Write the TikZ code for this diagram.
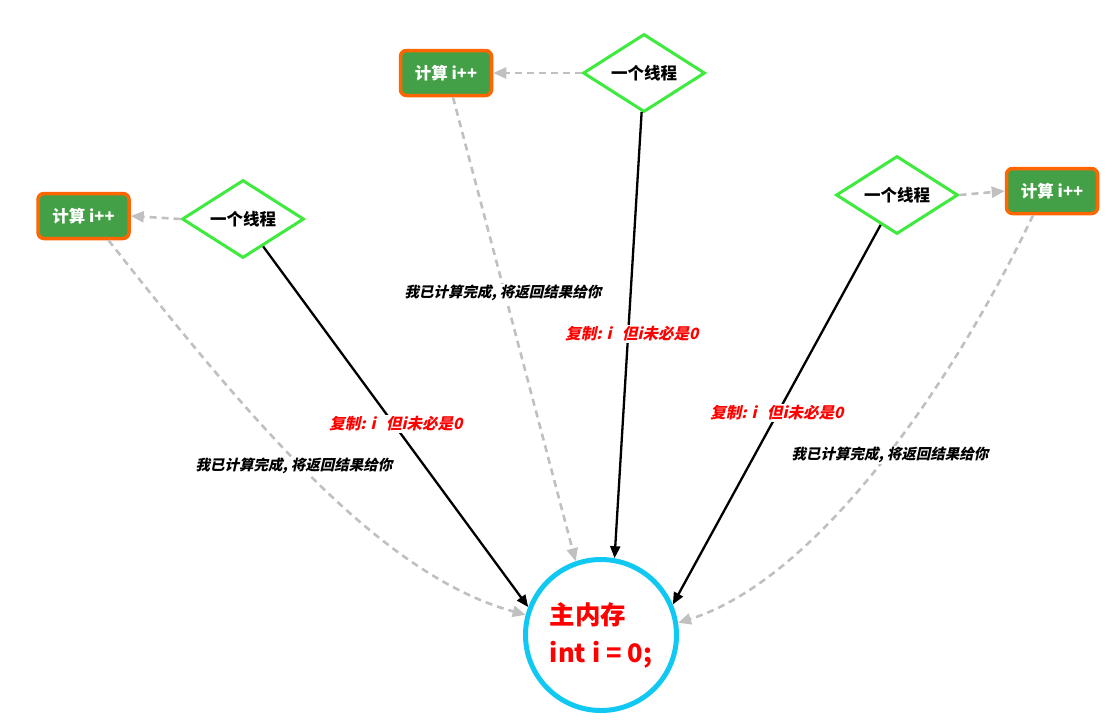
\documentclass[tikz,border=0pt]{standalone}
\usepackage{fontspec}
\setmainfont{Noto Sans CJK SC}
\newfontfamily\slfont{Noto Sans CJK SC}[FakeSlant=0.22]
\usetikzlibrary{shapes.geometric,arrows.meta}
\definecolor{boxgreen}{HTML}{44A047}
\definecolor{boxorange}{HTML}{FF6600}
\definecolor{dgreen}{HTML}{3EEA3E}
\definecolor{memblue}{HTML}{11C8F2}
\definecolor{dgrey}{HTML}{C0C0C0}
\definecolor{lred}{HTML}{FF0000}
\tikzset{
  calcbox/.style={draw=boxorange, fill=boxgreen, line width=3.5pt, rounded corners=6pt,
    minimum width=91pt, minimum height=45pt, inner sep=0pt, text=white, font=\bfseries\fontsize{16.5}{18}\selectfont},
  thread/.style={draw=dgreen, fill=white, line width=3pt, diamond, aspect=1.55, inner sep=0pt,
    minimum width=122pt, minimum height=78pt, font=\bfseries\fontsize{16.5}{18}\selectfont},
  memory/.style={draw=memblue, line width=5pt, circle, minimum size=151pt, inner sep=0pt,
    align=left, text=lred, font=\bfseries\fontsize{25.5}{31}\selectfont},
  copyarrow/.style={line width=2.3pt, -{Triangle[length=12pt,width=10pt]}},
  backarrow/.style={dgrey, line width=2.6pt, dash pattern=on 7pt off 5pt, -{Triangle[length=13pt,width=11pt]}},
  redlbl/.style={fill=white, inner sep=1.5pt, text=lred, font=\slfont\bfseries\fontsize{15.5}{17}\selectfont},
  blklbl/.style={fill=white, inner sep=1.5pt, font=\slfont\bfseries\fontsize{14.5}{16}\selectfont},
}
\begin{document}
\begin{tikzpicture}[x=1pt,y=1pt]
\useasboundingbox (0,0) rectangle (1116,-724);
% nodes
\node[calcbox] (b1) at (446,-73) {计算 i++};
\node[thread]  (d1) at (644,-73) {一个线程};
\node[calcbox] (b2) at (83.5,-216) {计算 i++};
\node[thread]  (d2) at (243,-219) {一个线程};
\node[thread]  (d3) at (897,-195) {一个线程};
\node[calcbox] (b3) at (1052,-191) {计算 i++};
\node[memory]  (mem) at (601,-635) {主内存\\[7pt]int i = 0;};
% thread -> calc
\draw[backarrow] (d1.west) -- (b1.east);
\draw[backarrow] (d2.west) -- (b2.east);
\draw[backarrow] (d3.east) -- (b3.west);
% copy arrows
\draw[copyarrow] (d1) -- (mem.80);
\draw[copyarrow] (d2) -- (mem.159);
\draw[copyarrow] (d3) -- (mem.23);
% back arrows
\draw[backarrow] ([xshift=7pt]b1.south) -- (mem.109);
\draw[backarrow] ([xshift=25pt]b2.south) .. controls (250,-420) and (380,-575) .. (mem.165);
\draw[backarrow] ([xshift=-19pt]b3.south) .. controls (950,-390) and (815,-580) .. (mem.9);
% labels
\node[redlbl] (r1) at (632,-334) {复制: i\ \ \ 但i未必是0};
\node[redlbl] (r2) at (396,-424) {复制: i\ \ \ 但i未必是0};
\node[redlbl] (r3) at (777,-413) {复制: i\ \ \ 但i未必是0};
\node[blklbl] (k1) at (503,-293) {我已计算完成, 将返回结果给你};
\node[blklbl] (k2) at (294,-466) {我已计算完成, 将返回结果给你};
\node[blklbl] (k3) at (890,-455) {我已计算完成, 将返回结果给你};
\end{tikzpicture}
\end{document}
